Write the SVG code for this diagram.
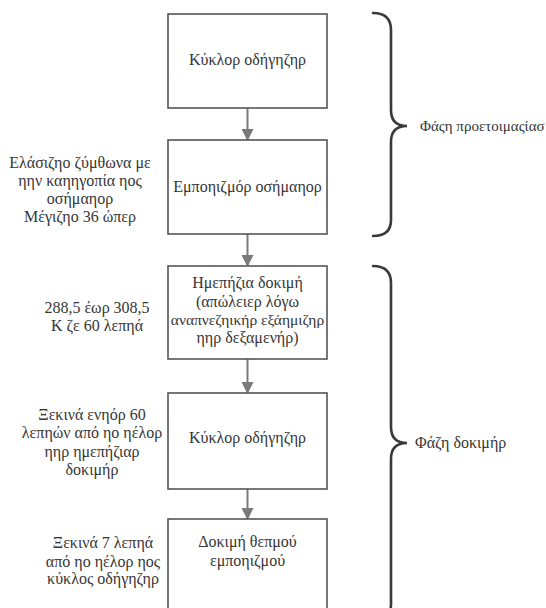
<svg xmlns="http://www.w3.org/2000/svg" width="546" height="608" viewBox="0 0 546 608">
<style>
text{font-family:"Liberation Serif","DejaVu Serif",serif;font-size:16px;fill:#363636}
.c{text-anchor:middle}
.box{fill:#fff;stroke:#555;stroke-width:1.6}
.conn{stroke:#7a7a7a;stroke-width:2;fill:none}
.brace{stroke:#3a3a3a;stroke-width:2.6;fill:none;stroke-linecap:round}
</style>
<defs>
<marker id="ah" markerWidth="6" markerHeight="6" refX="5" refY="3" orient="auto" markerUnits="strokeWidth">
<path d="M0,0 L6,3 L0,6 Z" fill="#7a7a7a"/>
</marker>
</defs>
<rect width="546" height="608" fill="#fff"/>
<g id="connectors">
<line class="conn" x1="247.5" y1="108" x2="247.5" y2="139" marker-end="url(#ah)"/>
<line class="conn" x1="247.5" y1="234" x2="247.5" y2="265" marker-end="url(#ah)"/>
<line class="conn" x1="247.5" y1="359" x2="247.5" y2="392" marker-end="url(#ah)"/>
<line class="conn" x1="247.5" y1="489" x2="247.5" y2="518" marker-end="url(#ah)"/>
</g>
<g id="n1">
<rect class="box" x="168" y="14" width="159" height="94"/>
<text class="c" x="247.5" y="65">Κύκλορ οδήγηζηρ</text>
</g>
<g id="n2">
<rect class="box" x="168" y="140" width="159" height="94"/>
<text class="c" x="247.5" y="192">Εμποηιζμόρ οσήμαηορ</text>
</g>
<g id="n3">
<rect class="box" x="168" y="266" width="159" height="93"/>
<text class="c" x="247.5" y="288">Ημεπήζια δοκιμή</text>
<text class="c" x="247.5" y="307">(απώλειερ λόγω</text>
<text class="c" x="247.5" y="325" style="font-size:15.5px">αναπνεζηικήρ εξάημιζηρ</text>
<text class="c" x="247.5" y="343">ηηρ δεξαμενήρ)</text>
</g>
<g id="n4">
<rect class="box" x="168" y="393" width="159" height="96"/>
<text class="c" x="247.5" y="443">Κύκλορ οδήγηζηρ</text>
</g>
<g id="n5">
<rect class="box" x="168" y="519" width="159" height="110"/>
<text class="c" x="247.5" y="547">Δοκιμή θεπμού</text>
<text class="c" x="247.5" y="566">εμποηιζμού</text>
</g>
<g id="labels">
<text class="c" x="80" y="168">Ελάσιζηο ζύμθωνα με</text>
<text class="c" x="80" y="186">ηην καηηγοπία ηος</text>
<text class="c" x="80" y="204">οσήμαηορ</text>
<text class="c" x="80" y="222">Μέγιζηο 36 ώπερ</text>
<text class="c" x="97" y="313">288,5 έωρ 308,5</text>
<text class="c" x="97" y="331">Κ ζε 60 λεπηά</text>
<text class="c" x="92" y="420">Ξεκινά ενηόρ 60</text>
<text class="c" x="92" y="438">λεπηών από ηο ηέλορ</text>
<text class="c" x="92" y="457">ηηρ ημεπήζιαρ</text>
<text class="c" x="92" y="475">δοκιμήρ</text>
<text class="c" x="103" y="548">Ξεκινά 7 λεπηά</text>
<text class="c" x="103" y="567">από ηο ηέλορ ηος</text>
<text class="c" x="103" y="584">κύκλος οδήγηζηρ</text>
</g>
<g id="brace1">
<path class="brace" d="M373,13 C386,13 391,20 391,30 L391,110 C391,120 396,126 407,126 C396,126 391,132 391,142 L391,220 C391,230 386,236 373,236"/>
<text x="420" y="131" style="font-size:15px">Φάςη προετοιμαςίασ</text>
</g>
<g id="brace2">
<path class="brace" d="M373,266 C386,266 391,273 391,283 L391,427 C391,437 396,443 407,443 C396,443 391,449 391,459 L391,604 C391,614 386,620 373,620"/>
<text x="415" y="448">Φάζη δοκιμήρ</text>
</g>
</svg>
